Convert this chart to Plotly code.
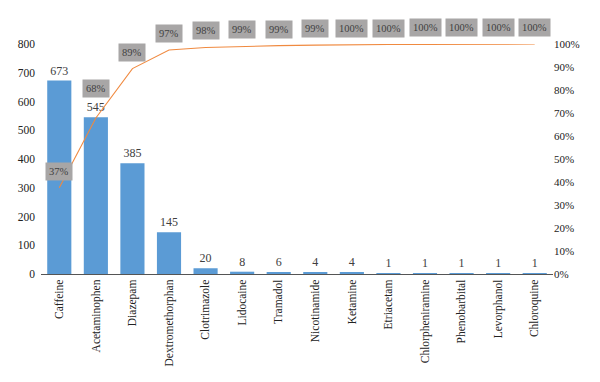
import plotly.graph_objects as go

categories = ["Caffeine", "Acetaminophen", "Diazepam", "Dextromethorphan", "Clotrimazole",
              "Lidocaine", "Tramadol", "Nicotinamide", "Ketamine", "Etriacetam",
              "Chlorpheniramine", "Phenobarbital", "Levorphanol", "Chloroquine"]
counts = [673, 545, 385, 145, 20, 8, 6, 4, 4, 1, 1, 1, 1, 1]
left_ticks = [0, 100, 200, 300, 400, 500, 600, 700, 800]
right_ticks = [0, 10, 20, 30, 40, 50, 60, 70, 80, 90, 100]

total = sum(counts)
cum = []
s = 0
for c in counts:
    s += c
    cum.append(s / total * 100)

FONT = "Liberation Serif"

fig = go.Figure()
fig.add_trace(go.Bar(
    x=categories, y=counts, marker_color="#5b9bd5", marker_line_width=0,
    text=[str(c) for c in counts], textposition="outside",
    textfont=dict(family=FONT, size=12, color="#404040"), cliponaxis=False,
))
fig.add_trace(go.Scatter(
    x=categories, y=cum, yaxis="y2", mode="lines",
    line=dict(color="#f08a40", width=1.1),
))

for i, (cat, v) in enumerate(zip(categories, cum)):
    # lift the label clear of the bar's own value label where they would meet
    shift = 20 if i == 1 else 7
    fig.add_annotation(
        x=cat, y=v, yref="y2", text=f"{round(v):d}%", showarrow=False,
        yanchor="bottom", yshift=shift, bgcolor="#a8a6a6", borderpad=3,
        font=dict(family=FONT, size=10.5, color="#404040"),
    )

fig.update_layout(
    width=600, height=382, margin=dict(l=41, r=47, t=44, b=108),
    paper_bgcolor="white", plot_bgcolor="white", showlegend=False,
    bargap=0.34,
    xaxis=dict(showline=True, linecolor="#555", linewidth=1, ticks="", tickangle=-90,
               tickfont=dict(family=FONT, size=11.5, color="#222"), showgrid=False),
    yaxis=dict(range=[0, 800], tickvals=left_ticks, showgrid=False, zeroline=False,
               tickfont=dict(family=FONT, size=11.5, color="#222"), ticks="",
               ticklabelstandoff=5),
    yaxis2=dict(range=[0, 100], tickvals=right_ticks,
                ticktext=[f"{t}%" for t in right_ticks], overlaying="y",
                side="right", showgrid=False, zeroline=False, ticks="",
                tickfont=dict(family=FONT, size=11, color="#222")),
)

fig.write_html("out.html")
